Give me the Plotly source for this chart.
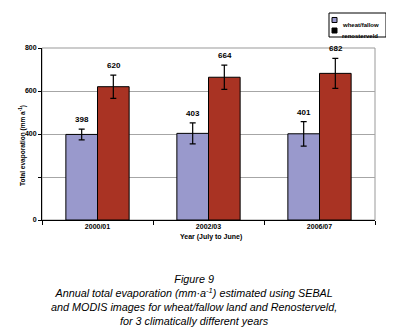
import plotly.graph_objects as go

years = ["2000/01", "2002/03", "2006/07"]
wheat = [398, 403, 401]
wheat_err = [25, 49, 57]
reno = [620, 664, 682]
reno_err = [54, 56, 70]
y_ticks = [0, 200, 400, 600, 800]
y_tick_text = ["0", "", "400", "600", "800"]
series_names = ["wheat/fallow", "renosterveld"]

C_WHEAT = "#9999CC"
C_RENO = "#A93323"
FONT = "Liberation Sans, Arial, sans-serif"

# page body has an 8px default margin: work in screen pixels
OFF = 8
W, H = 394 - OFF, 329 - OFF
pl, pr, pt, pb = 42, 375, 48, 220  # plot area in screen pixels
ml, mr, mt, mb = pl - OFF, 394 - pr, pt - OFF, 329 - pb
pw, ph = pr - pl, pb - pt
def px(xp): return (xp - pl) / pw
def py(yp): return (pb - yp) / ph

fig = go.Figure()
fig.add_trace(go.Bar(x=years, y=wheat, name=series_names[0], showlegend=False,
                     marker=dict(color=C_WHEAT, line=dict(color="black", width=1)),
                     error_y=dict(type="data", array=wheat_err, color="black", thickness=1.2, width=3)))
fig.add_trace(go.Bar(x=years, y=reno, name=series_names[1], showlegend=False,
                     marker=dict(color=C_RENO, line=dict(color="black", width=1)),
                     error_y=dict(type="data", array=reno_err, color="black", thickness=1.2, width=3)))

for i, yr in enumerate(years):
    fig.add_annotation(x=yr, y=wheat[i] + wheat_err[i], xref="x", yref="y", text=f"<b>{wheat[i]}</b>",
                       showarrow=False, yanchor="bottom", xshift=-16, yshift=3,
                       font=dict(size=8, family=FONT, color="black"))
    fig.add_annotation(x=yr, y=reno[i] + reno_err[i], xref="x", yref="y", text=f"<b>{reno[i]}</b>",
                       showarrow=False, yanchor="bottom", xshift=16, yshift=3,
                       font=dict(size=8, family=FONT, color="black"))

fig.add_annotation(x=px(16), y=py(103), xref="paper", yref="paper",
                   text="<b>Total evaporation (mm a<sup>-1</sup>)</b>",
                   showarrow=False, textangle=-90, font=dict(size=6.5, family=FONT, color="black"))
fig.add_annotation(x=px(211), y=py(243), xref="paper", yref="paper", text="<b>Year (July to June)</b>",
                   showarrow=False, font=dict(size=7, family=FONT, color="black"))
caption = ("<i>Figure 9</i><br><i>Annual total evaporation (mm·a<sup>-1</sup>) estimated using SEBAL</i><br>"
           "<i>and MODIS images for wheat/fallow land and Renosterveld,</i><br>"
           "<i>for 3 climatically different years</i>")
fig.add_annotation(x=px(194), y=py(271), xref="paper", yref="paper", text=caption, yanchor="top",
                   showarrow=False, align="center", font=dict(size=10.8, family=FONT, color="black"))

# plot frame (grey top/right)
fig.add_shape(type="rect", xref="paper", yref="paper", x0=0, x1=1, y0=0, y1=1,
              line=dict(color="#999999", width=1), layer="below")

# manual compact legend
fig.add_shape(type="rect", xref="paper", yref="paper", x0=px(329), x1=px(386), y0=py(13), y1=py(37),
              line=dict(color="black", width=1), fillcolor="white")
leg_colors = [C_WHEAT, "black"]
for k, nm in enumerate(series_names):
    yc = 20 + k * 10.5
    fig.add_shape(type="rect", xref="paper", yref="paper", x0=px(332), x1=px(337), y0=py(yc + 2.5), y1=py(yc - 2.5),
                  line=dict(color="black", width=1), fillcolor=leg_colors[k])
    fig.add_annotation(x=px(340), y=py(yc), xref="paper", yref="paper", text=f"<b>{nm}</b>", xanchor="left",
                       showarrow=False, font=dict(size=6, family=FONT, color="black"))

fig.update_layout(
    width=W, height=H, margin=dict(l=ml, r=mr, t=mt, b=mb, autoexpand=False),
    paper_bgcolor="white", plot_bgcolor="white", showlegend=False,
    barmode="group", bargap=0.43, bargroupgap=0,
    font=dict(family=FONT, size=7, color="black"),
    xaxis=dict(showline=True, linecolor="black", linewidth=1, ticks="outside", tickson="boundaries",
               ticklen=4, tickcolor="black", tickfont=dict(size=7, family=FONT), showgrid=False,
               tickprefix="<b>", ticksuffix="</b>"),
    yaxis=dict(range=[0, 800], tickvals=y_ticks, ticktext=[f"<b>{t}</b>" if t else "" for t in y_tick_text],
               showline=True, linecolor="black",
               linewidth=1, ticks="outside", ticklen=3, tickcolor="black", showgrid=True,
               gridcolor="#A6A6A6", gridwidth=1, zeroline=False,
               tickfont=dict(size=7, family=FONT)),
)
fig.write_html("out.html")
